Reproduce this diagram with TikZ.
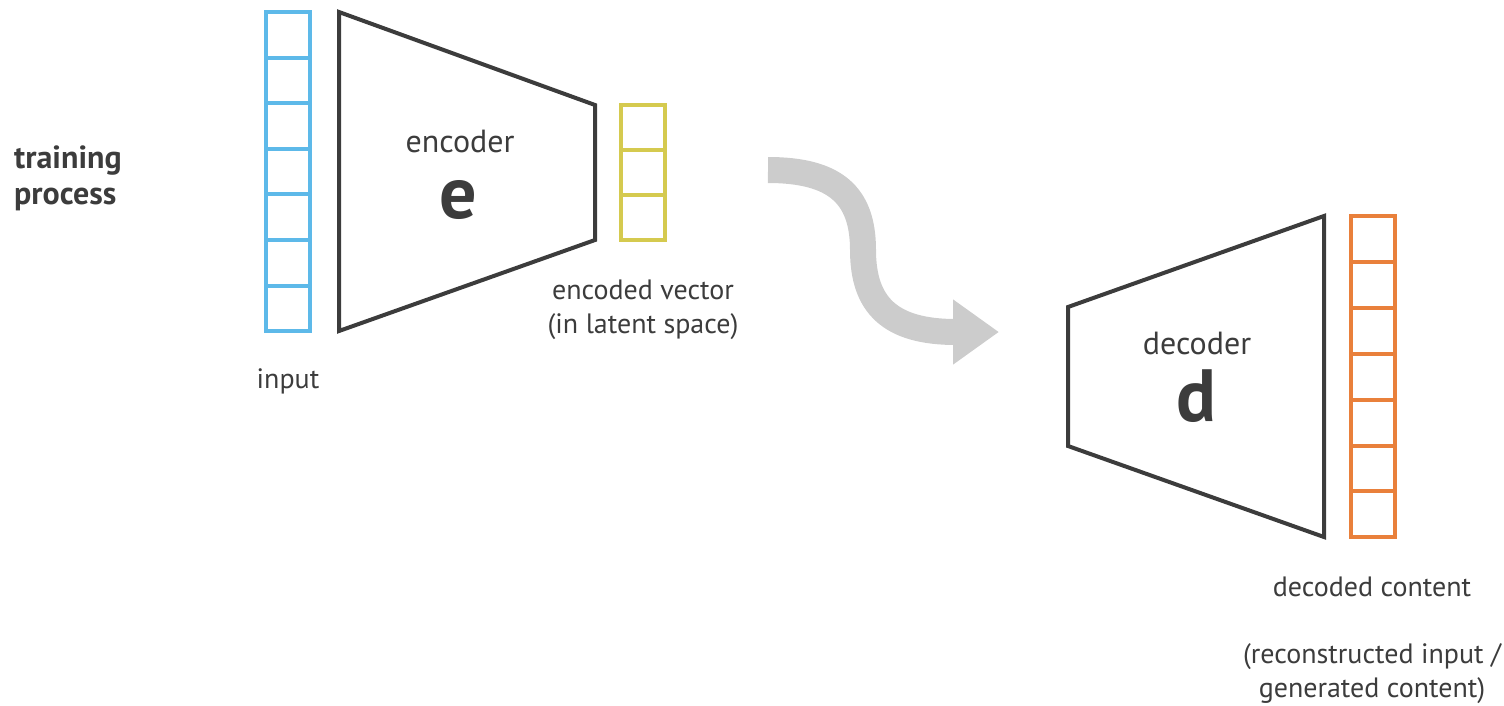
\documentclass[tikz,border=0pt]{standalone}
\usepackage{fontspec}
\setmainfont{PT Sans}
\usetikzlibrary{arrows.meta,positioning}
\definecolor{inblue}{HTML}{5DB9E9}
\definecolor{latyellow}{HTML}{D5CA4F}
\definecolor{outorange}{HTML}{E9803B}
\definecolor{txtgray}{HTML}{3C3C3C}
\definecolor{flowgray}{HTML}{CCCCCC}
\begin{document}
\begin{tikzpicture}
[x=1pt,y=-1pt,
cell/.style = {draw, line width=4pt, minimum width=44pt, inner sep=0pt},
incell/.style = {cell, draw=inblue, minimum height=45.6pt},
latcell/.style = {cell, draw=latyellow, minimum height=45pt},
outcell/.style = {cell, draw=outorange, minimum height=45.9pt},
net/.style = {draw=txtgray, line width=4pt, line join=miter},
lbl/.style = {text=txtgray, font=\fontsize{28}{36}\selectfont, anchor=base, inner sep=0pt},
netlbl/.style = {lbl, font=\fontsize{32}{36}\selectfont},
big/.style = {text=txtgray, font=\fontsize{74}{74}\selectfont\bfseries, anchor=base, inner sep=0pt},
side/.style = {lbl, anchor=base west, font=\fontsize{32}{36}\selectfont\bfseries},]
\useasboundingbox (0,0) rectangle (1504,705);

% columns
\foreach \i in {0,...,6}
  \node (in\i) at (288,{12+45.6*(\i+0.5)})[incell] {};
\foreach \i in {0,...,2}
  \node (lat\i) at (643,{105+45*(\i+0.5)})[latcell] {};
\foreach \i in {0,...,6}
  \node (out\i) at (1373,{216+45.9*(\i+0.5)})[outcell] {};

% encoder and decoder
\coordinate (e1) at (339,12);
\coordinate (e2) at (595,105);
\coordinate (e3) at (595,240);
\coordinate (e4) at (339,331);
\draw[net] (e1)--(e2)--(e3)--(e4)--cycle;

\coordinate (d1) at (1068,307);
\coordinate (d2) at (1324,216);
\coordinate (d3) at (1324,537);
\coordinate (d4) at (1068,446);
\draw[net] (d1)--(d2)--(d3)--(d4)--cycle;

\node (enc) at (460,152)[netlbl] {encoder};
\node (e) at (458,218)[big] {e};
\node (dec) at (1197,354)[netlbl] {decoder};
\node (d) at (1196,421)[big] {d};

% labels
\node (inlbl) at (288,388)[lbl] {input};
\node (latlbl) at (643,299)[lbl] {encoded vector};
\node (latlbl2) at (643,333)[lbl] {(in latent space)};
\node (outlbl) at (1372,596)[lbl] {decoded content};
\node (outlbl2) at (1372,663)[lbl] {(reconstructed input /};
\node (outlbl3) at (1372,697)[lbl] {generated content)};
\node (train) at (14,168)[side] {training};
\node (proc) at (14,204)[side] {process};

% flow arrow
\coordinate (fs) at (768,170);
\coordinate (fe) at (999,332);
\draw[flowgray, line width=26pt, -{Triangle[length=46pt,width=62pt]}]
  (fs) .. controls (835,170) and (863,195) .. (863,250)
       .. controls (863,305) and (890,332) .. (fe);

\end{tikzpicture}
\end{document}
